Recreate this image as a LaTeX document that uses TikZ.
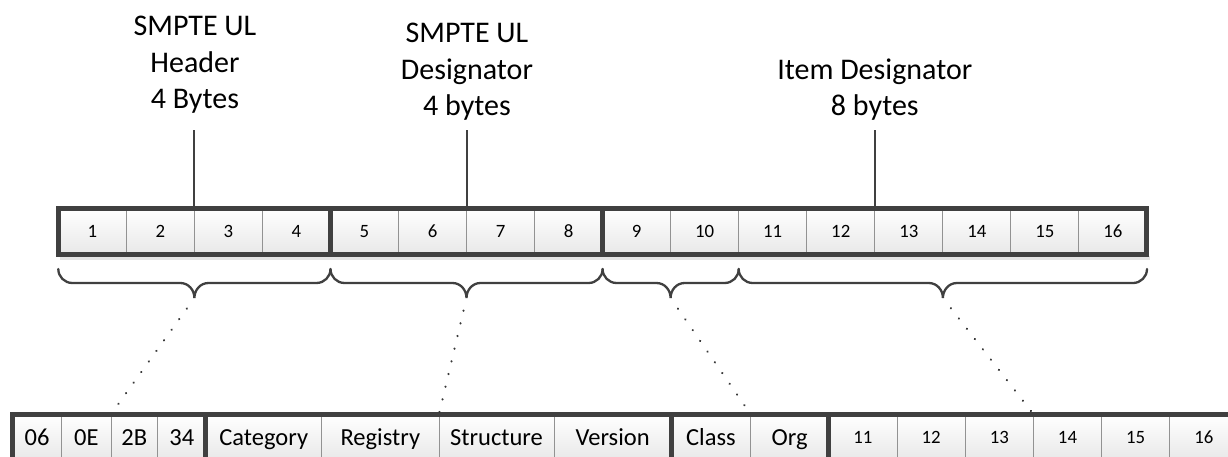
\documentclass[tikz,border=0pt]{standalone}
\usepackage{fontspec}
\setmainfont{Carlito}
\definecolor{bordergray}{HTML}{404040}
\definecolor{divgray}{HTML}{929292}
\definecolor{dotgray}{HTML}{383838}
\definecolor{shadowgray}{HTML}{E4E4E4}
\begin{document}
\begin{tikzpicture}[x=0.5pt,y=-0.5pt,
  cell/.style={draw=divgray, line width=0.5pt, top color=white, bottom color=black!9,
    inner sep=0pt, outer sep=0pt, minimum height=22.95pt, anchor=center},
  numtxt/.style={font=\fontsize{9.4}{11}\selectfont, text height=7.95pt, text depth=2pt},
  wordtxt/.style={font=\fontsize{12.25}{14}\selectfont, text height=9.9pt, text depth=2pt},
  thickbox/.style={draw=bordergray, line width=2.5pt},
  lab/.style={font=\fontsize{15}{18.25}\selectfont, align=center, inner sep=0pt, anchor=north},
  conn/.style={draw=bordergray, line width=1pt},
  bracestyle/.style={draw=bordergray, line width=1.15pt, line cap=round},
  dots/.style={draw=dotgray, line width=1.2pt, line cap=round, dash pattern=on 0.01pt off 6.5pt, dash phase=0.01pt}]
\useasboundingbox (0,0) rectangle (1228,456);
\clip (0,0) rectangle (1228,456);
\fill[white] (0,0) rectangle (1228,456);

% soft shadow under the top row
\fill[shadowgray] (60,256) rectangle (1150,260);

% top row
\foreach \k in {1,...,16} {
  \pgfmathsetmacro\cx{58.3+68.04*(\k-0.5)}
  \node[cell, numtxt, minimum width=34.02pt] (t\k) at (\cx,231.25) {\k};
}
\draw[thickbox] (t1.north west) rectangle (t16.south east);
\draw[thickbox] (t4.north east) -- (t4.south east);
\draw[thickbox] (t8.north east) -- (t8.south east);

% bottom row
\foreach \l/\r/\n/\txt in {12.5/61.7/1/06, 61.7/111/2/0E, 111/157.7/3/2B, 157.7/205.8/4/34,
    205.8/321.7/5/Category, 321.7/439/6/Registry, 439/554/7/Structure, 554/671.3/8/Version,
    671.3/750.6/9/Class, 750.6/828.8/10/Org} {
  \pgfmathsetmacro\cx{(\l+\r)/2}
  \pgfmathsetmacro\w{(\r-\l)/2}
  \node[cell, wordtxt, minimum width=\w pt] (b\n) at (\cx,437.15) {\txt};
}
\foreach \k in {11,...,16} {
  \pgfmathsetmacro\cx{828.8+68.2*(\k-10.5)}
  \node[cell, numtxt, minimum width=34.1pt] (b\k) at (\cx,437.15) {\k};
}
\draw[thickbox] (b1.north west) rectangle (b16.south east);
\draw[thickbox] (b4.north east) -- (b4.south east);
\draw[thickbox] (b8.north east) -- (b8.south east);
\draw[thickbox] (b10.north east) -- (b10.south east);

% labels
\node[lab] (lh) at (195,15.7) {SMPTE UL\\Header\\4 Bytes};
\node[lab] (ld) at (467,22.7) {SMPTE UL\\Designator\\4 bytes};
\node[lab] (li) at (874.8,58.2) {Item Designator\\8 bytes};

\path (t2.north east) ++(0,-78) coordinate (lh0);
\path (t6.north east) ++(0,-78) coordinate (ld0);
\path (t12.north east) ++(0,-78) coordinate (li0);
\draw[conn] (lh0) -- (t2.north east);
\draw[conn] (ld0) -- (t6.north east);
\draw[conn] (li0) -- (t12.north east);

% braces
\coordinate (tip1) at (194.4,298);
\coordinate (tip2) at (466.5,298);
\coordinate (tip3) at (670.6,298);
\coordinate (tip4) at (942.9,298);
\draw[bracestyle] (58.3,269) to[out=-90,in=180] (72.3,283) -- (180.4,283) to[out=0,in=90] (tip1)
  to[out=90,in=180] (208.4,283) -- (316.5,283) to[out=0,in=-90] (330.5,269);
\draw[bracestyle] (330.5,269) to[out=-90,in=180] (344.5,283) -- (452.5,283) to[out=0,in=90] (tip2)
  to[out=90,in=180] (480.5,283) -- (588.6,283) to[out=0,in=-90] (602.6,269);
\draw[bracestyle] (602.6,269) to[out=-90,in=180] (616.6,283) -- (656.6,283) to[out=0,in=90] (tip3)
  to[out=90,in=180] (684.6,283) -- (724.7,283) to[out=0,in=-90] (738.7,269);
\draw[bracestyle] (738.7,269) to[out=-90,in=180] (752.7,283) -- (928.9,283) to[out=0,in=90] (tip4)
  to[out=90,in=180] (956.9,283) -- (1133,283) to[out=0,in=-90] (1147,269);

% dotted connectors
\draw[dots] (tip1) -- (b2.north east);
\draw[dots] (tip2) -- (b6.north east);
\draw[dots] (tip3) -- (b9.north east);
\draw[dots] (tip4) -- (b13.north east);
\end{tikzpicture}
\end{document}
